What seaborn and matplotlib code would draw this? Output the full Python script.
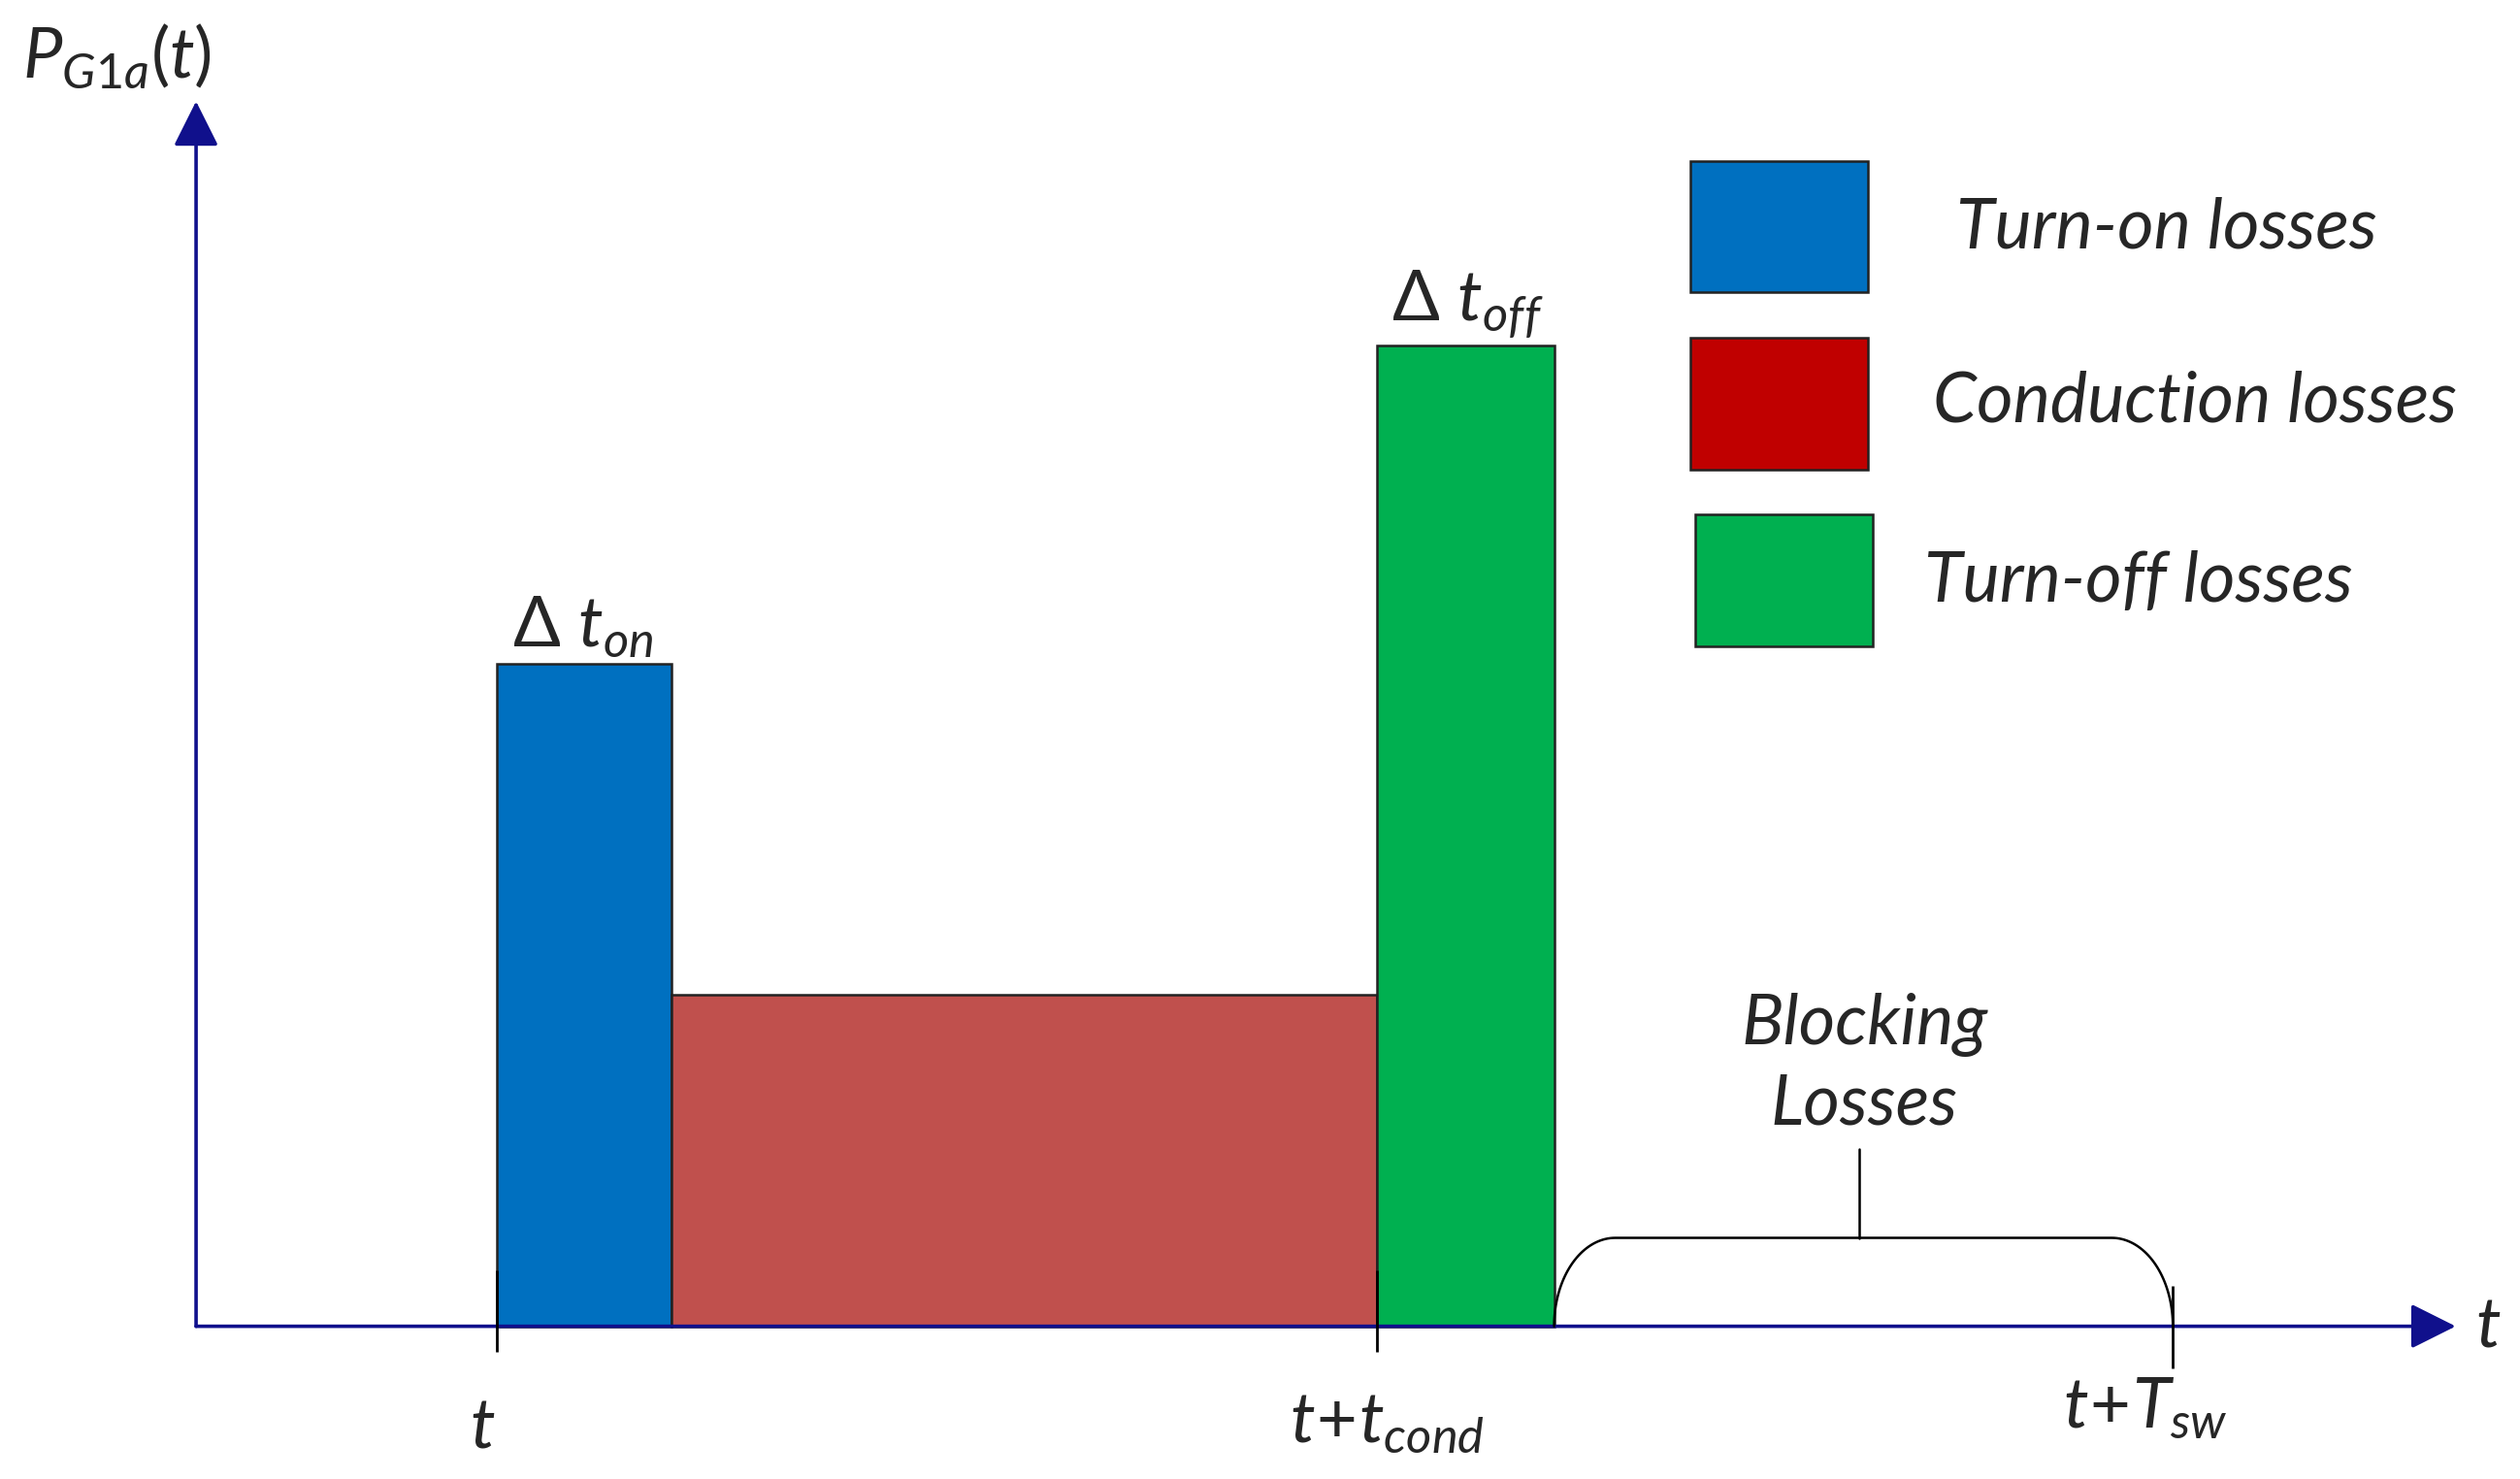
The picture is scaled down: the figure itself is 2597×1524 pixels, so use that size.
import numpy as np
import matplotlib
matplotlib.use("Agg")
import matplotlib.pyplot as plt
from matplotlib.patches import Rectangle
import seaborn as sns

# loss segments (time units, power units) -- schematic values
loss_names = ["Turn-on losses", "Conduction losses", "Turn-off losses"]
seg_start = [18.7, 29.6, 73.5]
seg_width = [10.9, 43.9, 11.0]
seg_power = [41.2, 20.6, 61.0]
bar_colors = ["#0070C0", "#C0504D", "#00B050"]
legend_colors = ["#0070C0", "#C00000", "#00B050"]

# time marks on the t axis
tick_pos = [18.7, 73.5, 123.0]
tick_labels = [r"$t$", r"$t\!+\!t_{cond}$", r"$t\!+\!T_{sw}$"]
t_block_start = 84.5
t_block_end = 123.0

sns.set_style("white")
plt.rcParams["font.family"] = ["Lato", "DejaVu Sans"]
plt.rcParams["mathtext.fontset"] = "custom"
plt.rcParams["mathtext.it"] = "Lato:italic"
plt.rcParams["mathtext.rm"] = "Lato:roman"
plt.rcParams["mathtext.bf"] = "Lato:bold"

navy = "#10108C"
fs = 52

fig = plt.figure(figsize=(25.97, 15.24), dpi=100)
ax = fig.add_axes([0, 0, 1, 1])
ax.set_xlim(-12.2, 144.6)
ax.set_ylim(-9.5, 82.5)
ax.axis("off")

# bars
ax.bar(seg_start, seg_power, width=seg_width, align="edge", color=bar_colors,
       edgecolor="#222222", linewidth=1.8, zorder=2)

# axes arrows
ax.annotate("", xy=(140.6, 0), xytext=(0, 0),
            arrowprops=dict(arrowstyle="-|>", color=navy, lw=2.6,
                            mutation_scale=72, shrinkA=0, shrinkB=0), zorder=3)
ax.annotate("", xy=(0, 76.2), xytext=(0, 0),
            arrowprops=dict(arrowstyle="-|>", color=navy, lw=2.6,
                            mutation_scale=72, shrinkA=0, shrinkB=0), zorder=3)

# tick marks
ax.vlines(tick_pos[:2], -1.6, 3.5, color="black", lw=2, zorder=4)
ax.vlines(tick_pos[2], -2.6, 2.5, color="black", lw=2, zorder=4)
for x, lab, y, dx in zip(tick_pos, tick_labels, [-6.3, -6.0, -5.1], [-0.9, 0.6, -1.7]):
    ax.text(x + dx, y, lab, fontsize=fs, ha="center", va="center")

ax.text(142.6, 0, r"$t$", fontsize=fs, ha="center", va="center")
ax.text(-10.8, 79.0, r"$P_{G1a}(t)$", fontsize=fs, ha="left", va="center")

# segment labels
ax.text(24.1, 41.5, r"$\mathrm{\Delta}\ t_{on}$", fontsize=fs, ha="center", va="bottom")
ax.text(79.1, 61.3, r"$\mathrm{\Delta}\ t_{off}$", fontsize=fs, ha="center", va="bottom")

# blocking bracket
h = 5.5
th = np.linspace(0, np.pi / 2, 40)
r = 3.8
xl = t_block_start + r * (1 - np.cos(th))
yl = h * np.sin(th)
xr = t_block_end - r * (1 - np.cos(th[::-1]))
yr = h * np.sin(th[::-1])
bx = np.concatenate([xl, xr])
by = np.concatenate([yl, yr])
sns.lineplot(x=bx, y=by, sort=False, color="black", lw=1.8, ax=ax, zorder=3)
mid = 103.5
ax.plot([mid, mid], [h, 11.0], color="black", lw=1.8, zorder=3)
ax.text(103.8, 16.3, "Blocking\nLosses", fontsize=fs, style="italic",
        ha="center", va="center", linespacing=1.32)

# legend
box_x = [93.0, 93.0, 93.3]
box_y = [64.3, 53.3, 42.3]
txt_x = [109.5, 108.1, 107.5]
txt_y = [68.3, 57.5, 46.3]
for i in range(3):
    ax.add_patch(Rectangle((box_x[i], box_y[i]), 11.0, 8.2, facecolor=legend_colors[i],
                           edgecolor="#222222", lw=1.8))
    ax.text(txt_x[i], txt_y[i], loss_names[i], fontsize=fs, style="italic",
            ha="left", va="center")

fig.savefig("out.png", dpi=100)
